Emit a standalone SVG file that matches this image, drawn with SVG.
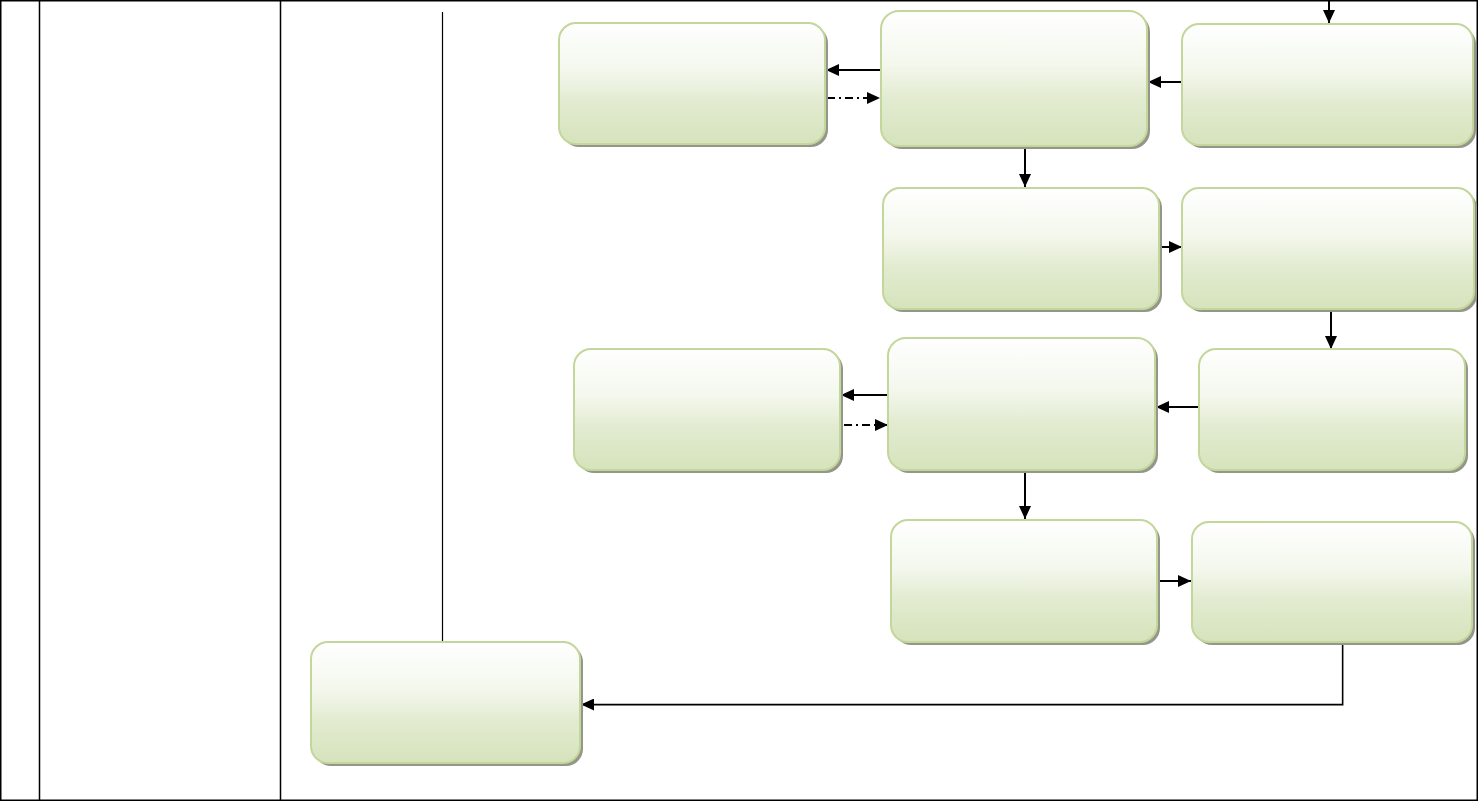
<svg xmlns="http://www.w3.org/2000/svg" width="1480" height="801" viewBox="0 0 1480 801">
<defs>
<linearGradient id="g" x1="0" y1="0" x2="0" y2="1">
<stop offset="0" stop-color="#ffffff"/>
<stop offset="0.4" stop-color="#f3f7ec"/>
<stop offset="0.65" stop-color="#e2ebd0"/>
<stop offset="1" stop-color="#d6e3bc"/>
</linearGradient>
<marker id="ah" viewBox="0 0 13 12" refX="13" refY="6" markerWidth="13" markerHeight="12" markerUnits="userSpaceOnUse" orient="auto">
<path d="M0,0 L13,6 L0,12 Z" fill="#000"/>
</marker>
</defs>
<style>
.frame{fill:none;stroke:#000;stroke-width:1.5}
.sh{fill:#94968a}
.bx{fill:url(#g);stroke:#c3d69b;stroke-width:2}
.c{fill:none;stroke:#000;stroke-width:2;marker-end:url(#ah)}
.dd{fill:none;stroke:#000;stroke-width:2;stroke-dasharray:8 4 2 4;marker-end:url(#ah)}
.thin{fill:none;stroke:#000;stroke-width:1.2}
</style>
<rect width="1480" height="801" fill="#fff"/>
<g id="frame">
<rect class="frame" x="0.75" y="0.75" width="1476.5" height="799.5"/>
<line class="frame" x1="39.5" y1="0" x2="39.5" y2="801"/>
<line class="frame" x1="280.5" y1="0" x2="280.5" y2="801"/>
<line class="thin" x1="442.5" y1="12" x2="442.5" y2="642"/>
</g>
<g id="connectors">
<line class="c" x1="1329" y1="0" x2="1329" y2="23"/>
<line class="c" x1="880" y1="70" x2="826" y2="70"/>
<line class="dd" x1="827" y1="98" x2="880" y2="98"/>
<line class="c" x1="1182" y1="82" x2="1148" y2="82"/>
<line class="c" x1="1025" y1="147" x2="1025" y2="187"/>
<line class="c" x1="1160" y1="247" x2="1182" y2="247"/>
<line class="c" x1="1331" y1="311" x2="1331" y2="349"/>
<line class="c" x1="1198" y1="407" x2="1156" y2="407"/>
<line class="c" x1="887" y1="395" x2="841" y2="395"/>
<line class="dd" x1="844" y1="425" x2="888" y2="425"/>
<line class="c" x1="1025" y1="472" x2="1025" y2="519"/>
<line class="c" x1="1158" y1="581" x2="1191" y2="581"/>
<polyline points="1343.5,645 1343.5,705.5 584,705.5" fill="none" stroke="#a8aa9e" stroke-width="1"/>
<polyline points="1342.5,643 1342.5,704.5 581,704.5" fill="none" stroke="#000" stroke-width="1.3" marker-end="url(#ah)"/>
</g>
<g id="n1"><rect class="sh" x="562" y="26" width="266" height="121" rx="17"/><rect class="bx" x="559" y="23" width="266" height="121" rx="17"/></g>
<g id="n2"><rect class="sh" x="884" y="14" width="266" height="135" rx="18"/><rect class="bx" x="881" y="11" width="266" height="135" rx="18"/></g>
<g id="n3"><rect class="sh" x="1185" y="27" width="291" height="121" rx="17"/><rect class="bx" x="1182" y="24" width="291" height="121" rx="17"/></g>
<g id="n4"><rect class="sh" x="886" y="191" width="276" height="121" rx="17"/><rect class="bx" x="883" y="188" width="276" height="121" rx="17"/></g>
<g id="n5"><rect class="sh" x="1185" y="191" width="292" height="121" rx="17"/><rect class="bx" x="1182" y="188" width="292" height="121" rx="17"/></g>
<g id="n6"><rect class="sh" x="577" y="352" width="266" height="121" rx="17"/><rect class="bx" x="574" y="349" width="266" height="121" rx="17"/></g>
<g id="n7"><rect class="sh" x="891" y="341" width="267" height="132" rx="18"/><rect class="bx" x="888" y="338" width="267" height="132" rx="18"/></g>
<g id="n8"><rect class="sh" x="1202" y="352" width="266" height="121" rx="17"/><rect class="bx" x="1199" y="349" width="266" height="121" rx="17"/></g>
<g id="n9"><rect class="sh" x="894" y="523" width="266" height="122" rx="17"/><rect class="bx" x="891" y="520" width="266" height="122" rx="17"/></g>
<g id="n10"><rect class="sh" x="1195" y="525" width="280" height="120" rx="17"/><rect class="bx" x="1192" y="522" width="280" height="120" rx="17"/></g>
<g id="n11"><rect class="sh" x="314" y="645" width="269" height="121" rx="17"/><rect class="bx" x="311" y="642" width="269" height="121" rx="17"/></g>
</svg>
